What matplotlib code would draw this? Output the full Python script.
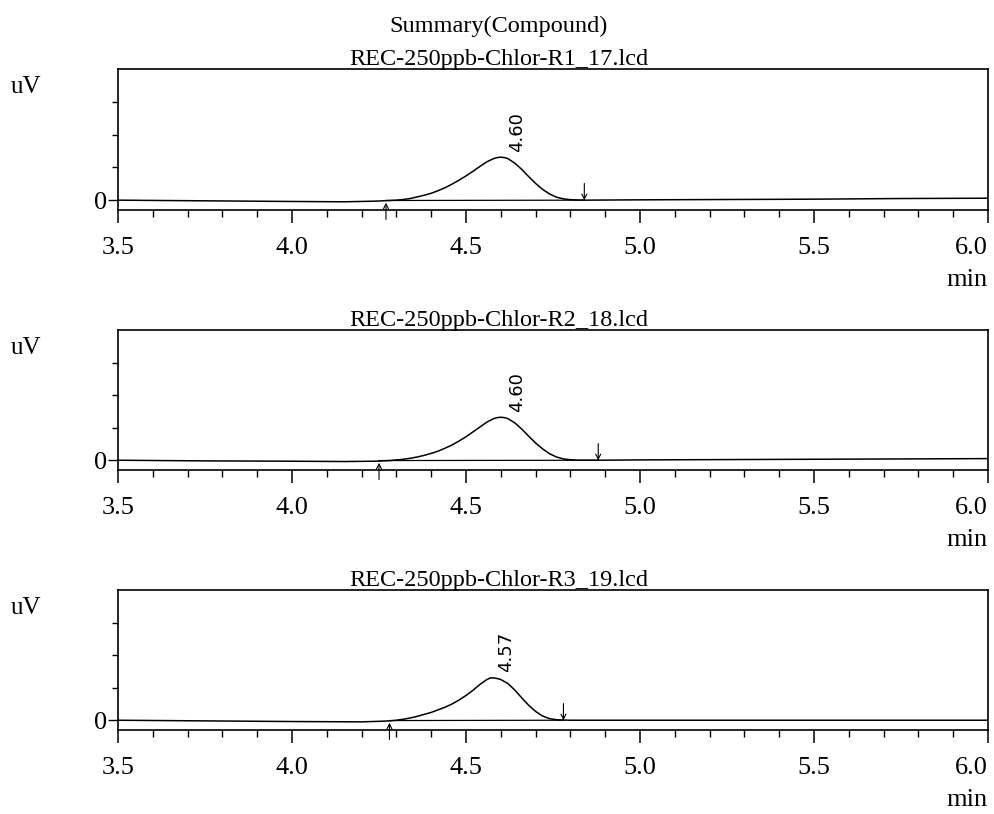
import numpy as np
import matplotlib
matplotlib.use("Agg")
import matplotlib.pyplot as plt
from matplotlib.ticker import FixedLocator

plt.rcParams['font.family'] = ['Liberation Serif', 'DejaVu Serif']

# Texts
main_title = "Summary(Compound)"
file_names = ["REC-250ppb-Chlor-R1_17.lcd",
              "REC-250ppb-Chlor-R2_18.lcd",
              "REC-250ppb-Chlor-R3_19.lcd"]

# Chromatograms (time in min, signal in tick units)
time_r1 = [3.50, 3.75, 4.00, 4.15, 4.24, 4.26, 4.28, 4.30, 4.32, 4.34, 4.36, 4.38,
           4.40, 4.42, 4.44, 4.46, 4.48, 4.50, 4.52, 4.54, 4.56, 4.58, 4.59, 4.60,
           4.61, 4.62, 4.64, 4.66, 4.68, 4.70, 4.72, 4.74, 4.76, 4.78, 4.80, 4.82,
           4.84, 5.00, 5.25, 5.50, 5.75, 6.00]
signal_r1 = [0.00, -0.02, -0.04, -0.05, -0.03, -0.02, -0.01, 0.00, 0.02, 0.05, 0.10, 0.15,
             0.21, 0.29, 0.38, 0.49, 0.61, 0.74, 0.88, 1.03, 1.17, 1.27, 1.30, 1.31,
             1.30, 1.27, 1.13, 0.94, 0.72, 0.51, 0.33, 0.19, 0.09, 0.04, 0.015, 0.005,
             0.00, 0.01, 0.02, 0.03, 0.05, 0.06]

time_r2 = [3.50, 3.75, 4.00, 4.15, 4.24, 4.26, 4.28, 4.30, 4.32, 4.34, 4.36, 4.38,
           4.40, 4.42, 4.44, 4.46, 4.48, 4.50, 4.52, 4.54, 4.56, 4.58, 4.59, 4.60,
           4.61, 4.62, 4.64, 4.66, 4.68, 4.70, 4.72, 4.74, 4.76, 4.78, 4.80, 4.82,
           4.88, 5.00, 5.25, 5.50, 5.75, 6.00]
signal_r2 = [0.00, -0.02, -0.03, -0.04, -0.03, -0.02, -0.01, 0.01, 0.03, 0.06, 0.10, 0.15,
             0.21, 0.28, 0.37, 0.47, 0.59, 0.72, 0.87, 1.02, 1.17, 1.28, 1.31, 1.32,
             1.31, 1.28, 1.15, 0.96, 0.74, 0.53, 0.35, 0.20, 0.10, 0.04, 0.015, 0.00,
             0.00, 0.01, 0.02, 0.03, 0.04, 0.05]

time_r3 = [3.50, 3.75, 4.00, 4.20, 4.26, 4.28, 4.30, 4.32, 4.34, 4.36, 4.38, 4.40,
           4.42, 4.44, 4.46, 4.48, 4.50, 4.52, 4.54, 4.56, 4.57, 4.58, 4.59, 4.60,
           4.62, 4.64, 4.66, 4.68, 4.70, 4.72, 4.74, 4.76, 4.78, 4.80, 5.00, 5.50,
           6.00]
signal_r3 = [0.00, -0.02, -0.04, -0.05, -0.03, -0.02, 0.00, 0.03, 0.07, 0.12, 0.18, 0.24,
             0.32, 0.40, 0.50, 0.62, 0.76, 0.92, 1.10, 1.25, 1.30, 1.30, 1.28, 1.25,
             1.13, 0.93, 0.69, 0.46, 0.27, 0.13, 0.05, 0.015, 0.005, 0.00, 0.00, 0.00,
             0.00]

times = [time_r1, time_r2, time_r3]
signals = [signal_r1, signal_r2, signal_r3]

peak_times = [4.60, 4.60, 4.57]
peak_labels = ["4.60", "4.60", "4.57"]
start_times = [4.27, 4.25, 4.28]
end_times = [4.84, 4.88, 4.78]

x_ticks = [3.5, 4.0, 4.5, 5.0, 5.5, 6.0]
x_tick_labels = ["3.5", "4.0", "4.5", "5.0", "5.5", "6.0"]
x_minor = [3.6, 3.7, 3.8, 3.9, 4.1, 4.2, 4.3, 4.4, 4.6, 4.7, 4.8, 4.9,
           5.1, 5.2, 5.3, 5.4, 5.6, 5.7, 5.8, 5.9]
y_minor = [1, 2, 3]

W, H = 995, 814
fig = plt.figure(figsize=(W / 100, H / 100), dpi=100)

# panel frames in pixels: top, bottom (x axis)
left_px, right_px = 118, 988
frames = [(69, 210), (330, 470), (590, 730)]

fig.text(499 / W, 1 - 32 / H, main_title, ha='center', va='baseline', fontsize=17.5)

for i in range(3):
    top, bot = frames[i]
    ax = fig.add_axes([left_px / W, 1 - bot / H, (right_px - left_px) / W, (bot - top) / H])
    ax.set_xlim(3.5, 6.0)
    ax.set_ylim(-0.3, 4.0)
    for s in ax.spines.values():
        s.set_linewidth(1.2)

    ax.plot(times[i], signals[i], color='black', lw=1.1)
    # integration baseline
    ax.plot([start_times[i], end_times[i]], [-0.01, 0.0], color='black', lw=0.9)

    # start / end markers
    arrow = dict(arrowstyle='->,head_length=0.35,head_width=0.18', lw=0.8,
                 color='black', shrinkA=0, shrinkB=0)
    ax.annotate('', xy=(start_times[i], -0.08), xytext=(0, -12),
                textcoords='offset points', arrowprops=arrow)
    ax.annotate('', xy=(end_times[i], 0.0), xytext=(0, 12),
                textcoords='offset points', arrowprops=arrow)

    peak_y = max(signals[i])
    ax.annotate(peak_labels[i], xy=(peak_times[i], peak_y), xytext=(5, 4),
                textcoords='offset points', rotation=90, ha='left', va='bottom',
                fontsize=13, family='DejaVu Sans')

    ax.set_xticks(x_ticks)
    ax.set_xticklabels(x_tick_labels, fontsize=19)
    ax.xaxis.set_minor_locator(FixedLocator(x_minor))
    ax.get_xticklabels()[-1].set_ha('right')
    ax.tick_params(axis='x', which='major', direction='out', length=9.5, width=1.1, pad=10)
    ax.tick_params(axis='x', which='minor', direction='out', length=5, width=1.0)

    ax.set_yticks([0])
    ax.set_yticklabels(['0'], fontsize=19)
    ax.yaxis.set_minor_locator(FixedLocator(y_minor))
    ax.tick_params(axis='y', which='major', direction='out', length=7, width=1.0, pad=1)
    ax.tick_params(axis='y', which='minor', direction='out', length=4.5, width=1.0)

    ax.annotate(file_names[i], xy=(0.438, 1), xycoords='axes fraction', xytext=(0, 3),
                textcoords='offset points', ha='center', va='baseline', fontsize=17.5)
    ax.annotate('uV', xy=(0, 1), xycoords='axes fraction', xytext=(-66, -13),
                textcoords='offset points', ha='center', va='center', fontsize=18)
    ax.annotate('min', xy=(1, 0), xycoords='axes fraction', xytext=(0, -55),
                textcoords='offset points', ha='right', va='baseline', fontsize=19)

fig.savefig('out.png', dpi=100, facecolor='white')
